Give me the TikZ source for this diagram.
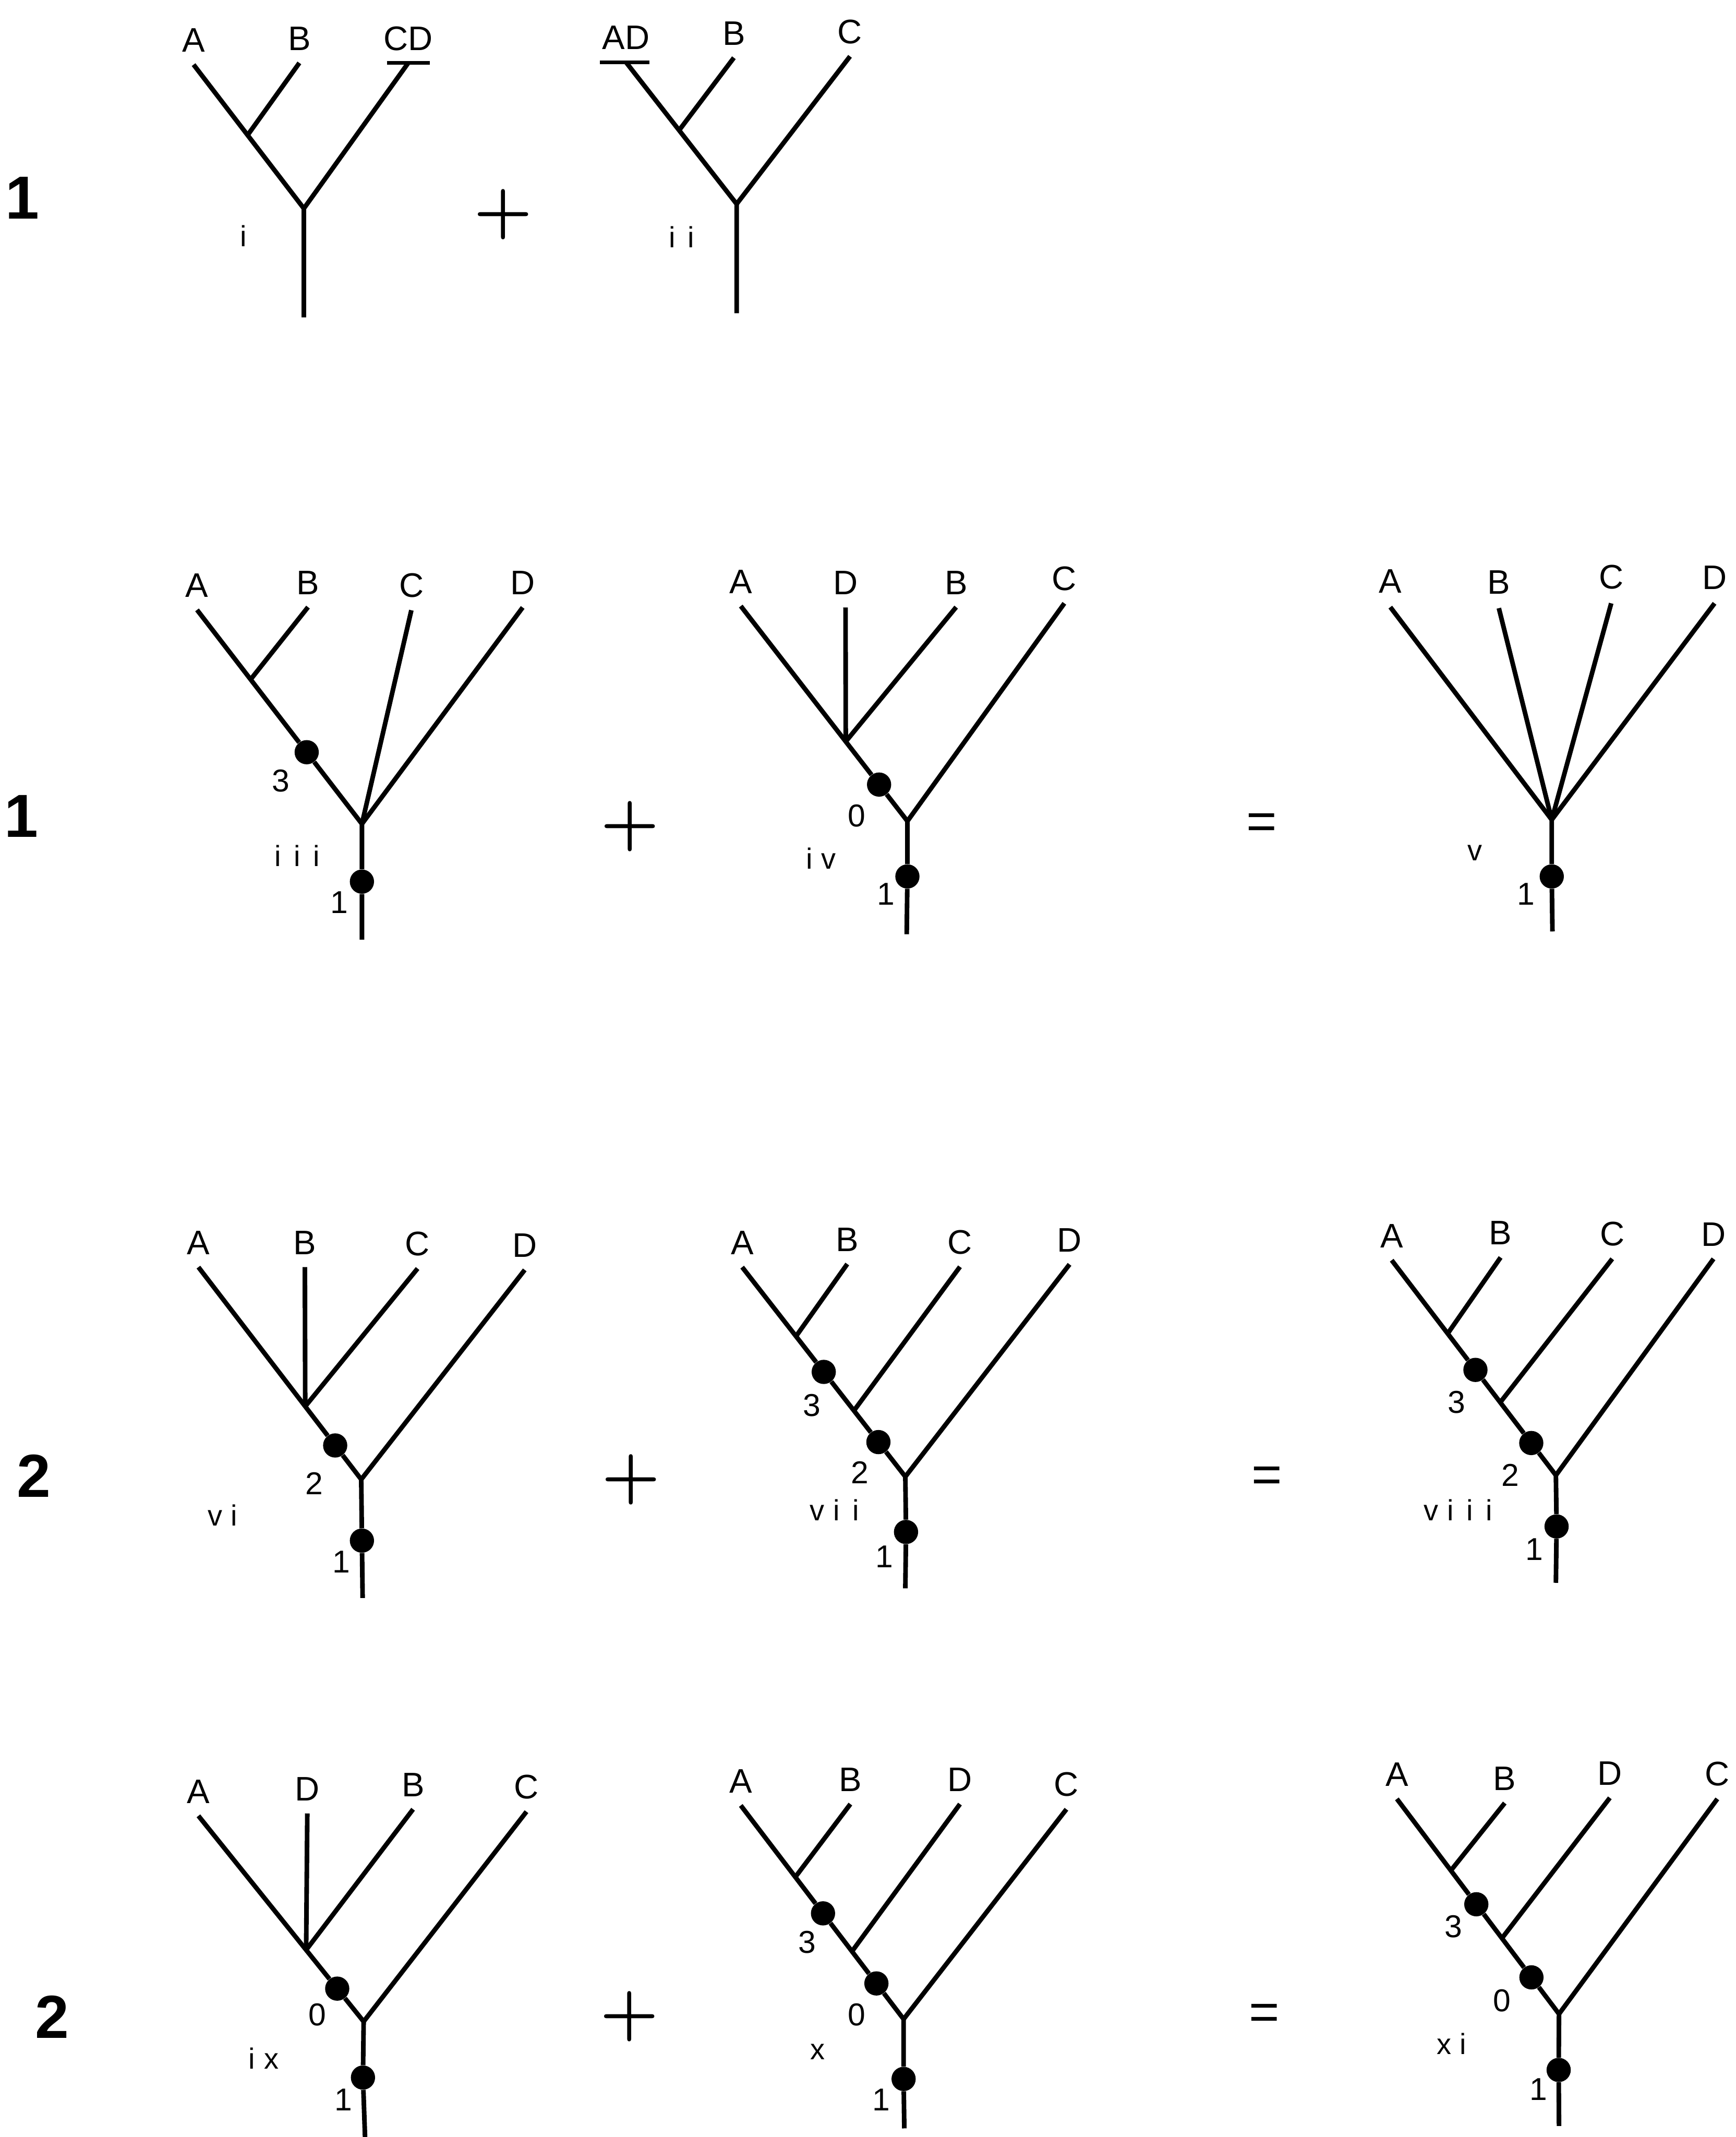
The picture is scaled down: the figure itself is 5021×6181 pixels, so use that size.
\documentclass[tikz,border=0pt]{standalone}
\usepackage{fontspec}
\setmainfont{Liberation Sans}
\newfontfamily\plusfont[Extension=.otf]{lmroman10-bold}
\usetikzlibrary{positioning,calc}
\newcommand{\rcell}[1]{\makebox[0.66em]{#1}}
\tikzset{BRANCH/.style={line width=3.8pt, line join=round}}
\tikzset{TBAR/.style={line width=3.2pt}}
\tikzset{DOT/.style={circle, fill=black, inner sep=0pt, minimum size=0.7cm}}
\tikzset{TAXON/.style={inner sep=0pt, font=\fontsize{28}{30}\selectfont}}
\tikzset{NUM/.style={inner sep=0pt, font=\fontsize{26}{28}\selectfont}}
\tikzset{TREEID/.style={inner sep=0pt, font=\fontsize{24}{26}\selectfont}}
\tikzset{ROWNUM/.style={inner sep=0pt, font=\fontsize{50}{52}\selectfont\bfseries}}
\tikzset{PLUS/.style={inner sep=0pt, font=\plusfont\fontsize{54}{56}\selectfont}}
\tikzset{EQUALS/.style={inner sep=0pt, font=\fontsize{43}{45}\selectfont}}

\begin{document}
\begin{tikzpicture}[x=0.01cm, y=-0.01cm]
    \fill[white] (0,0) rectangle (5021,6181);
    \useasboundingbox (0,0) rectangle (5021,6181);

    % row 1
    \node[ROWNUM] (n_row1) at (64,572) {1};

    \coordinate (i_a) at (560,187);
    \coordinate (i_b) at (866,182);
    \coordinate (i_cd) at (1181,182);
    \coordinate (i_root) at (879,603);
    \coordinate (i_base) at (879,918);
    \coordinate (i_ab) at ($(i_a)!0.49!(i_root)$);
    \coordinate (i_bar_l) at ($(i_cd)+(-62,0)$);
    \coordinate (i_bar_r) at ($(i_cd)+(63,0)$);
    \draw[BRANCH] (i_a) -- (i_ab) -- (i_root) -- (i_base);
    \draw[BRANCH] (i_b) -- (i_ab);
    \draw[BRANCH] (i_cd) -- (i_root);
    \draw[TBAR] (i_bar_l) -- (i_bar_r);
    \node[TAXON, above=0.36cm of i_a] (i_lab_a) {A};
    \node[TAXON, above=0.36cm of i_b] (i_lab_b) {B};
    \node[TAXON, above=0.34cm of i_cd] (i_lab_cd) {CD};
    \node[TREEID] (i_name) at (705,682) {\rcell{i}};

    \node[PLUS] (n_plus1) at (1456,620) {+};

    \coordinate (ii_ad) at (1811,180);
    \coordinate (ii_b) at (2123,167);
    \coordinate (ii_c) at (2459,163);
    \coordinate (ii_root) at (2131,590);
    \coordinate (ii_base) at (2131,906);
    \coordinate (ii_ab) at ($(ii_ad)!0.48!(ii_root)$);
    \coordinate (ii_bar_l) at ($(ii_ad)+(-75,0)$);
    \coordinate (ii_bar_r) at ($(ii_ad)+(68,0)$);
    \draw[BRANCH] (ii_ad) -- (ii_ab) -- (ii_root) -- (ii_base);
    \draw[BRANCH] (ii_b) -- (ii_ab);
    \draw[BRANCH] (ii_c) -- (ii_root);
    \draw[TBAR] (ii_bar_l) -- (ii_bar_r);
    \node[TAXON, above=0.36cm of ii_ad] (ii_lab_ad) {AD};
    \node[TAXON, above=0.36cm of ii_b] (ii_lab_b) {B};
    \node[TAXON, above=0.36cm of ii_c] (ii_lab_c) {C};
    \node[TREEID] (ii_name) at (1972,686) {\rcell{i}\rcell{i}};

    % row 2
    \node[ROWNUM] (n_row2) at (62,2361) {1};

    \coordinate (iii_a) at (570,1764);
    \coordinate (iii_b) at (891,1756);
    \coordinate (iii_c) at (1190,1765);
    \coordinate (iii_d) at (1512,1757);
    \coordinate (iii_root) at (1047,2383);
    \coordinate (iii_base) at (1047,2718);
    \coordinate (iii_ab) at ($(iii_a)!0.325!(iii_root)$);
    \node[DOT] (iii_dot3) at ($(iii_a)!0.665!(iii_root)$) {};
    \node[DOT] (iii_dot1) at (1047,2550) {};
    \draw[BRANCH] (iii_a) -- (iii_ab) -- (iii_dot3) -- (iii_root) -- (iii_dot1) -- (iii_base);
    \draw[BRANCH] (iii_b) -- (iii_ab);
    \draw[BRANCH] (iii_c) -- (iii_root);
    \draw[BRANCH] (iii_d) -- (iii_root);
    \node[TAXON, above=0.36cm of iii_a] (iii_lab_a) {A};
    \node[TAXON, above=0.36cm of iii_b] (iii_lab_b) {B};
    \node[TAXON, above=0.36cm of iii_c] (iii_lab_c) {C};
    \node[TAXON, above=0.36cm of iii_d] (iii_lab_d) {D};
    \node[NUM] (iii_num3) at (812,2259) {3};
    \node[NUM] (iii_num1) at (982,2610) {1};
    \node[TREEID] (iii_name) at (860,2475) {\rcell{i}\rcell{i}\rcell{i}};

    \node[PLUS] (n_plus2) at (1823,2390) {+};

    \coordinate (iv_a) at (2143,1753);
    \coordinate (iv_d) at (2446,1757);
    \coordinate (iv_b) at (2766,1756);
    \coordinate (iv_c) at (3079,1745);
    \coordinate (iv_root) at (2625,2375);
    \coordinate (iv_base) at (2623,2702);
    \coordinate (iv_adb) at ($(iv_a)!0.63!(iv_root)$);
    \node[DOT] (iv_dot0) at ($(iv_a)!0.83!(iv_root)$) {};
    \node[DOT] (iv_dot1) at (2625,2535) {};
    \draw[BRANCH] (iv_a) -- (iv_adb) -- (iv_dot0) -- (iv_root) -- (iv_dot1) -- (iv_base);
    \draw[BRANCH] (iv_d) -- (iv_adb);
    \draw[BRANCH] (iv_b) -- (iv_adb);
    \draw[BRANCH] (iv_c) -- (iv_root);
    \node[TAXON, above=0.36cm of iv_a] (iv_lab_a) {A};
    \node[TAXON, above=0.36cm of iv_d] (iv_lab_d) {D};
    \node[TAXON, above=0.36cm of iv_b] (iv_lab_b) {B};
    \node[TAXON, above=0.36cm of iv_c] (iv_lab_c) {C};
    \node[NUM] (iv_num0) at (2478,2359) {0};
    \node[NUM] (iv_num1) at (2563,2586) {1};
    \node[TREEID] (iv_name) at (2370,2483) {\rcell{i}\rcell{v}};

    \node[EQUALS] (n_eq2) at (3650,2390) {=};

    \coordinate (v_a) at (4022,1756);
    \coordinate (v_b) at (4336,1759);
    \coordinate (v_c) at (4661,1745);
    \coordinate (v_d) at (4960,1745);
    \coordinate (v_root) at (4489,2371);
    \coordinate (v_base) at (4491,2694);
    \node[DOT] (v_dot1) at (4489,2535) {};
    \draw[BRANCH] (v_a) -- (v_root) -- (v_dot1) -- (v_base);
    \draw[BRANCH] (v_b) -- (v_root);
    \draw[BRANCH] (v_c) -- (v_root);
    \draw[BRANCH] (v_d) -- (v_root);
    \node[TAXON, above=0.4cm of v_a] (v_lab_a) {A};
    \node[TAXON, above=0.4cm of v_b] (v_lab_b) {B};
    \node[TAXON, above=0.4cm of v_c] (v_lab_c) {C};
    \node[TAXON, above=0.4cm of v_d] (v_lab_d) {D};
    \node[NUM] (v_num1) at (4415,2586) {1};
    \node[TREEID] (v_name) at (4267,2467) {\rcell{v}};

    % row 3
    \node[ROWNUM] (n_row3) at (98,4268) {2};

    \coordinate (vi_a) at (574,3665);
    \coordinate (vi_b) at (882,3665);
    \coordinate (vi_c) at (1208,3669);
    \coordinate (vi_d) at (1518,3673);
    \coordinate (vi_root) at (1045,4279);
    \coordinate (vi_base) at (1049,4622);
    \coordinate (vi_abc) at ($(vi_a)!0.656!(vi_root)$);
    \node[DOT] (vi_dot2) at ($(vi_a)!0.84!(vi_root)$) {};
    \node[DOT] (vi_dot1) at (1047,4456) {};
    \draw[BRANCH] (vi_a) -- (vi_abc) -- (vi_dot2) -- (vi_root) -- (vi_dot1) -- (vi_base);
    \draw[BRANCH] (vi_b) -- (vi_abc);
    \draw[BRANCH] (vi_c) -- (vi_abc);
    \draw[BRANCH] (vi_d) -- (vi_root);
    \node[TAXON, above=0.36cm of vi_a] (vi_lab_a) {A};
    \node[TAXON, above=0.36cm of vi_b] (vi_lab_b) {B};
    \node[TAXON, above=0.36cm of vi_c] (vi_lab_c) {C};
    \node[TAXON, above=0.36cm of vi_d] (vi_lab_d) {D};
    \node[NUM] (vi_num2) at (909,4291) {2};
    \node[NUM] (vi_num1) at (988,4518) {1};
    \node[TREEID] (vi_name) at (650,4383) {\rcell{v}\rcell{i}};

    \node[PLUS] (n_plus3) at (1825,4280) {+};

    \coordinate (vii_a) at (2147,3665);
    \coordinate (vii_b) at (2451,3656);
    \coordinate (vii_c) at (2777,3664);
    \coordinate (vii_d) at (3094,3657);
    \coordinate (vii_root) at (2619,4271);
    \coordinate (vii_base) at (2619,4594);
    \coordinate (vii_ab) at ($(vii_a)!0.33!(vii_root)$);
    \coordinate (vii_abc) at ($(vii_a)!0.685!(vii_root)$);
    \node[DOT] (vii_dot3) at ($(vii_a)!0.5!(vii_root)$) {};
    \node[DOT] (vii_dot2) at ($(vii_a)!0.835!(vii_root)$) {};
    \node[DOT] (vii_dot1) at (2621,4431) {};
    \draw[BRANCH] (vii_a) -- (vii_ab) -- (vii_dot3) -- (vii_abc) -- (vii_dot2) -- (vii_root) -- (vii_dot1) -- (vii_base);
    \draw[BRANCH] (vii_b) -- (vii_ab);
    \draw[BRANCH] (vii_c) -- (vii_abc);
    \draw[BRANCH] (vii_d) -- (vii_root);
    \node[TAXON, above=0.36cm of vii_a] (vii_lab_a) {A};
    \node[TAXON, above=0.36cm of vii_b] (vii_lab_b) {B};
    \node[TAXON, above=0.36cm of vii_c] (vii_lab_c) {C};
    \node[TAXON, above=0.36cm of vii_d] (vii_lab_d) {D};
    \node[NUM] (vii_num3) at (2348,4064) {3};
    \node[NUM] (vii_num2) at (2487,4259) {2};
    \node[NUM] (vii_num1) at (2558,4502) {1};
    \node[TREEID] (vii_name) at (2420,4367) {\rcell{v}\rcell{i}\rcell{i}};

    \node[EQUALS] (n_eq3) at (3665,4279) {=};

    \coordinate (viii_a) at (4026,3645);
    \coordinate (viii_b) at (4341,3637);
    \coordinate (viii_c) at (4664,3641);
    \coordinate (viii_d) at (4957,3641);
    \coordinate (viii_root) at (4501,4267);
    \coordinate (viii_base) at (4501,4578);
    \coordinate (viii_ab) at ($(viii_a)!0.341!(viii_root)$);
    \coordinate (viii_abc) at ($(viii_a)!0.661!(viii_root)$);
    \node[DOT] (viii_dot3) at ($(viii_a)!0.51!(viii_root)$) {};
    \node[DOT] (viii_dot2) at ($(viii_a)!0.85!(viii_root)$) {};
    \node[DOT] (viii_dot1) at (4503,4415) {};
    \draw[BRANCH] (viii_a) -- (viii_ab) -- (viii_dot3) -- (viii_abc) -- (viii_dot2) -- (viii_root) -- (viii_dot1) -- (viii_base);
    \draw[BRANCH] (viii_b) -- (viii_ab);
    \draw[BRANCH] (viii_c) -- (viii_abc);
    \draw[BRANCH] (viii_d) -- (viii_root);
    \node[TAXON, above=0.36cm of viii_a] (viii_lab_a) {A};
    \node[TAXON, above=0.36cm of viii_b] (viii_lab_b) {B};
    \node[TAXON, above=0.36cm of viii_c] (viii_lab_c) {C};
    \node[TAXON, above=0.36cm of viii_d] (viii_lab_d) {D};
    \node[NUM] (viii_num3) at (4213,4056) {3};
    \node[NUM] (viii_num2) at (4369,4267) {2};
    \node[NUM] (viii_num1) at (4439,4482) {1};
    \node[TREEID] (viii_name) at (4224,4367) {\rcell{v}\rcell{i}\rcell{i}\rcell{i}};

    % row 4
    \node[ROWNUM] (n_row4) at (150,5833) {2};

    \coordinate (ix_a) at (574,5252);
    \coordinate (ix_d) at (889,5245);
    \coordinate (ix_b) at (1195,5233);
    \coordinate (ix_c) at (1523,5240);
    \coordinate (ix_root) at (1052,5847);
    \coordinate (ix_base) at (1056,6181);
    \coordinate (ix_adb) at ($(ix_a)!0.652!(ix_root)$);
    \node[DOT] (ix_dot0) at ($(ix_a)!0.84!(ix_root)$) {};
    \node[DOT] (ix_dot1) at (1050,6009) {};
    \draw[BRANCH] (ix_a) -- (ix_adb) -- (ix_dot0) -- (ix_root) -- (ix_dot1) -- (ix_base);
    \draw[BRANCH] (ix_d) -- (ix_adb);
    \draw[BRANCH] (ix_b) -- (ix_adb);
    \draw[BRANCH] (ix_c) -- (ix_root);
    \node[TAXON, above=0.36cm of ix_a] (ix_lab_a) {A};
    \node[TAXON, above=0.36cm of ix_d] (ix_lab_d) {D};
    \node[TAXON, above=0.36cm of ix_b] (ix_lab_b) {B};
    \node[TAXON, above=0.36cm of ix_c] (ix_lab_c) {C};
    \node[NUM] (ix_num0) at (918,5828) {0};
    \node[NUM] (ix_num1) at (994,6073) {1};
    \node[TREEID] (ix_name) at (757,5953) {\rcell{i}\rcell{x}};

    \node[PLUS] (n_plus4) at (1821,5833) {+};

    \coordinate (x_a) at (2143,5222);
    \coordinate (x_b) at (2460,5218);
    \coordinate (x_d) at (2777,5218);
    \coordinate (x_c) at (3085,5233);
    \coordinate (x_root) at (2614,5840);
    \coordinate (x_base) at (2616,6156);
    \coordinate (x_ab) at ($(x_a)!0.335!(x_root)$);
    \coordinate (x_abd) at ($(x_a)!0.683!(x_root)$);
    \node[DOT] (x_dot3) at ($(x_a)!0.505!(x_root)$) {};
    \node[DOT] (x_dot0) at ($(x_a)!0.833!(x_root)$) {};
    \node[DOT] (x_dot1) at (2614,6013) {};
    \draw[BRANCH] (x_a) -- (x_ab) -- (x_dot3) -- (x_abd) -- (x_dot0) -- (x_root) -- (x_dot1) -- (x_base);
    \draw[BRANCH] (x_b) -- (x_ab);
    \draw[BRANCH] (x_d) -- (x_abd);
    \draw[BRANCH] (x_c) -- (x_root);
    \node[TAXON, above=0.36cm of x_a] (x_lab_a) {A};
    \node[TAXON, above=0.36cm of x_b] (x_lab_b) {B};
    \node[TAXON, above=0.36cm of x_d] (x_lab_d) {D};
    \node[TAXON, above=0.36cm of x_c] (x_lab_c) {C};
    \node[NUM] (x_num3) at (2335,5618) {3};
    \node[NUM] (x_num0) at (2478,5828) {0};
    \node[NUM] (x_num1) at (2549,6073) {1};
    \node[TREEID] (x_name) at (2366,5934) {\rcell{x}};

    \node[EQUALS] (n_eq4) at (3657,5833) {=};

    \coordinate (xi_a) at (4041,5203);
    \coordinate (xi_b) at (4353,5215);
    \coordinate (xi_d) at (4657,5200);
    \coordinate (xi_c) at (4968,5203);
    \coordinate (xi_root) at (4510,5825);
    \coordinate (xi_base) at (4510,6149);
    \coordinate (xi_ab) at ($(xi_a)!0.333!(xi_root)$);
    \coordinate (xi_abd) at ($(xi_a)!0.648!(xi_root)$);
    \node[DOT] (xi_dot3) at ($(xi_a)!0.49!(xi_root)$) {};
    \node[DOT] (xi_dot0) at ($(xi_a)!0.83!(xi_root)$) {};
    \node[DOT] (xi_dot1) at (4509,5987) {};
    \draw[BRANCH] (xi_a) -- (xi_ab) -- (xi_dot3) -- (xi_abd) -- (xi_dot0) -- (xi_root) -- (xi_dot1) -- (xi_base);
    \draw[BRANCH] (xi_b) -- (xi_ab);
    \draw[BRANCH] (xi_d) -- (xi_abd);
    \draw[BRANCH] (xi_c) -- (xi_root);
    \node[TAXON, above=0.36cm of xi_a] (xi_lab_a) {A};
    \node[TAXON, above=0.36cm of xi_b] (xi_lab_b) {B};
    \node[TAXON, above=0.36cm of xi_d] (xi_lab_d) {D};
    \node[TAXON, above=0.36cm of xi_c] (xi_lab_c) {C};
    \node[NUM] (xi_num3) at (4205,5572) {3};
    \node[NUM] (xi_num0) at (4345,5787) {0};
    \node[NUM] (xi_num1) at (4450,6043) {1};
    \node[TREEID] (xi_name) at (4205,5911) {\rcell{x}\rcell{i}};
\end{tikzpicture}
\end{document}
